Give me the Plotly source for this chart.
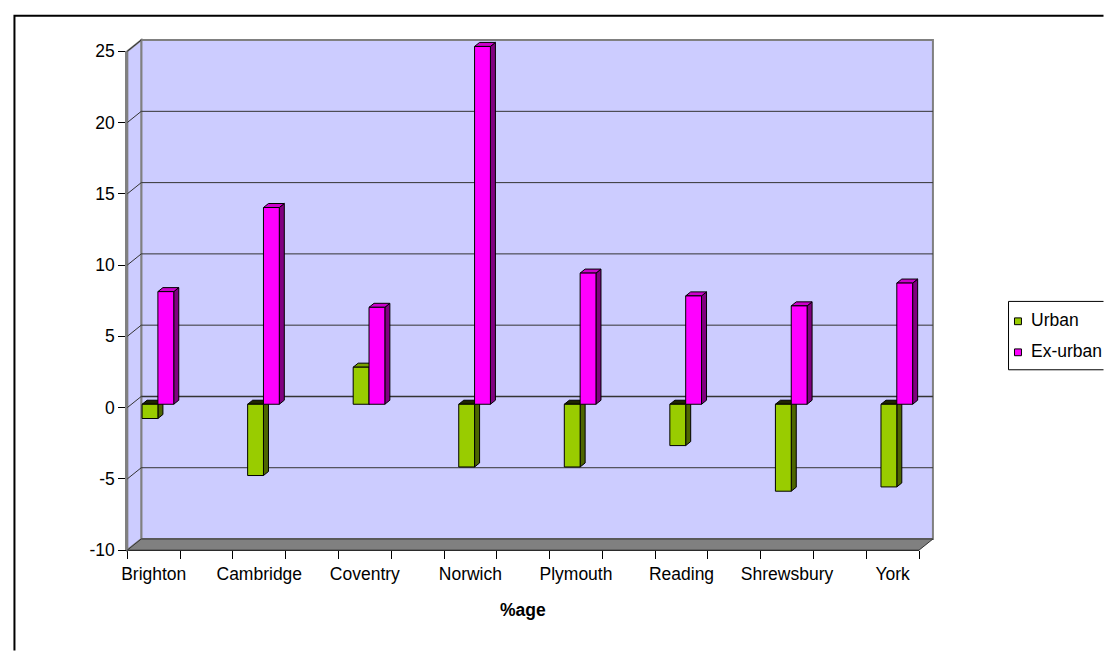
import plotly.graph_objects as go

# ---------------- data ----------------
categories = ["Brighton", "Cambridge", "Coventry", "Norwich",
              "Plymouth", "Reading", "Shrewsbury", "York"]
urban = [-1.0, -5.0, 2.6, -4.4, -4.4, -2.9, -6.1, -5.8]
ex_urban = [7.9, 13.8, 6.8, 25.1, 9.2, 7.6, 6.9, 8.5]
series_names = ["Urban", "Ex-urban"]
y_ticks = [-10, -5, 0, 5, 10, 15, 20, 25]
y_tick_text = ["-10", "-5", "0", "5", "10", "15", "20", "25"]
x_title = "%age"

# ---------------- geometry / style ----------------
W, H = 1104, 661
FX0, FX1 = 122, 918          # front plane, px
FY_BOT, FY_TOP = 557, 42.5
YMIN, YMAX = -10, 25
N_SLOTS = 15                 # category axis slots (ticks 0..15)
DEPTH_PX = (14, 11.5)        # back wall offset (right, up)
BAR_PLANE = 0.3              # bars sit this far into the depth
BAR_DEPTH = 0.36             # bar thickness as fraction of depth
BAR_W = 0.3                  # slot units

FONT = "Arial, 'Liberation Sans', sans-serif"
FS = 17.5
WALL = "#CCCCFF"
GRAY = "#808080"
GRID = "#333333"
COL = {
    "Urban": dict(front="#99CC00", side="#4D6600", top="#7AA300", cap="#1F2600"),
    "Ex-urban": dict(front="#FF00FF", side="#800080", top="#CC00CC", cap="#330033"),
}

pxx = (FX1 - FX0) / N_SLOTS
pxy = (FY_BOT - FY_TOP) / (YMAX - YMIN)
cx_range = [-FX0 / pxx, (W - FX0) / pxx]
cy_range = [YMIN - (H - FY_BOT) / pxy, YMAX + FY_TOP / pxy]
ddx, ddy = DEPTH_PX[0] / pxx, DEPTH_PX[1] / pxy

cat_x = [2 * i + 0.5 for i in range(len(categories))]
slot_ticks = list(range(N_SLOTS + 1))


def px(x):
    return x / W


def py(y):
    return 1 - y / H


fig = go.Figure()

# ---------------- 3D bars (canvas axes x5/y5) ----------------
ox, oy = BAR_PLANE * ddx, BAR_PLANE * ddy
bx, by = BAR_DEPTH * ddx, BAR_DEPTH * ddy


def poly_trace(xs, ys, color):
    return go.Scatter(x=xs, y=ys, xaxis="x5", yaxis="y5", mode="lines",
                      fill="toself", fillcolor=color,
                      line=dict(color="black", width=1),
                      hoverinfo="skip", showlegend=False)


for name, vals, side in [("Urban", urban, -1), ("Ex-urban", ex_urban, 1)]:
    fr_x, fr_y, sd_x, sd_y = [], [], [], []
    tp_x, tp_y, cp_x, cp_y = [], [], [], []
    for c, v in zip(cat_x, vals):
        x0 = c + ox + (-BAR_W if side < 0 else 0)
        x1 = x0 + BAR_W
        y0 = oy + min(0, v)
        y1 = oy + max(0, v)
        fr_x += [x0, x1, x1, x0, x0, None]
        fr_y += [y0, y0, y1, y1, y0, None]
        sd_x += [x1, x1 + bx, x1 + bx, x1, x1, None]
        sd_y += [y0, y0 + by, y1 + by, y1, y0, None]
        tx = [x0, x1, x1 + bx, x0 + bx, x0, None]
        ty = [y1, y1, y1 + by, y1 + by, y1, None]
        if v >= 0:
            tp_x += tx
            tp_y += ty
        else:
            cp_x += tx
            cp_y += ty
    c = COL[name]
    fig.add_trace(poly_trace(sd_x, sd_y, c["side"]))
    if tp_x:
        fig.add_trace(poly_trace(tp_x, tp_y, c["top"]))
    if cp_x:
        fig.add_trace(poly_trace(cp_x, cp_y, c["cap"]))
    fig.add_trace(poly_trace(fr_x, fr_y, c["front"]))

# dummy traces so the front axes get drawn
for xa in ["x", "x2", "x3"]:
    fig.add_trace(go.Scatter(x=[0], y=[0], xaxis=xa, yaxis="y", mode="markers",
                             marker=dict(opacity=0), hoverinfo="skip",
                             showlegend=False))

# ---------------- walls, floor, gridlines (shapes below) ----------------
shapes = []
ref = dict(xref="x5", yref="y5", layer="below")
EDGE_R = 1 - 0.5 / W
EDGE_B = 0.5 / H
# outer border (only left and top edges fall inside the picture)
shapes.append(dict(type="path", xref="paper", yref="paper", layer="below",
                   path=f"M {px(8.5)},{EDGE_B} L {px(8.5)},{py(6)} L {EDGE_R},{py(6)}",
                   line=dict(color="black", width=2)))
# back wall
shapes.append(dict(type="rect", x0=0 + ddx, x1=N_SLOTS + ddx,
                   y0=YMIN + ddy, y1=YMAX + ddy, fillcolor=WALL,
                   line=dict(color=GRAY, width=2), **ref))
# side wall
shapes.append(dict(type="path",
                   path=f"M 0,{YMIN} L {ddx},{YMIN + ddy} L {ddx},{YMAX + ddy} L 0,{YMAX} Z",
                   fillcolor=WALL, line=dict(color=GRAY, width=2), **ref))
# floor
shapes.append(dict(type="path",
                   path=(f"M 0,{YMIN} L {N_SLOTS},{YMIN} L {N_SLOTS + ddx},{YMIN + ddy} "
                         f"L {ddx},{YMIN + ddy} Z"),
                   fillcolor=GRAY, line=dict(color="#333333", width=1), **ref))
# gridlines on back wall + diagonals on side wall
for t in y_ticks:
    if YMIN < t < YMAX:
        shapes.append(dict(type="line", x0=ddx, x1=N_SLOTS + ddx,
                           y0=t + ddy, y1=t + ddy,
                           line=dict(color=GRID, width=1.5 if t == 0 else 1), **ref))
    if t > YMIN:
        shapes.append(dict(type="line", x0=0, x1=ddx, y0=t, y1=t + ddy,
                           line=dict(color=GRID, width=1), **ref))

# ---------------- manual legend (box runs off the right edge) ----------------
LX0, LY0, LY1 = 1008, 300.5, 371
shapes.append(dict(type="path", xref="paper", yref="paper", layer="above",
                   path=(f"M {EDGE_R},{py(LY0)} L {px(LX0)},{py(LY0)} L {px(LX0)},{py(LY1)} "
                         f"L {EDGE_R},{py(LY1)}"),
                   fillcolor="white", line=dict(color="black", width=1)))
annotations = []
for name, ycen in zip(series_names, [321, 353]):
    shapes.append(dict(type="rect", xref="paper", yref="paper", layer="above",
                       x0=px(1014), x1=px(1021), y0=py(ycen + 3.5), y1=py(ycen - 3.5),
                       fillcolor=COL[name]["front"],
                       line=dict(color="black", width=1)))
    annotations.append(dict(xref="paper", yref="paper", x=px(1030), y=py(ycen - 1),
                            xanchor="left", yanchor="middle", showarrow=False,
                            borderpad=0,
                            text=name, font=dict(family=FONT, size=FS, color="black")))

# axis title
annotations.append(dict(xref="paper", yref="paper", x=px((FX0 + FX1) / 2), y=py(619),
                        xanchor="center", yanchor="middle", showarrow=False,
                        text=f"<b>{x_title}</b>",
                        font=dict(family=FONT, size=FS, color="black")))

zero_px = FY_BOT - (0 - YMIN) * pxy

fig.update_layout(
    width=W, height=H,
    margin=dict(l=0, r=0, t=0, b=0),
    paper_bgcolor="white",
    plot_bgcolor="rgba(0,0,0,0)",
    showlegend=False,
    font=dict(family=FONT, size=FS, color="black"),
    shapes=shapes,
    annotations=annotations,
    # front plane axes
    xaxis=dict(domain=[px(FX0), px(FX1)], range=[0, N_SLOTS], anchor="y",
               showline=True, linecolor="black", linewidth=1,
               ticks="outside", ticklen=8, tickcolor="black", tickwidth=1,
               tickvals=slot_ticks, showticklabels=False,
               showgrid=False, zeroline=False, fixedrange=True),
    yaxis=dict(domain=[py(FY_BOT), py(FY_TOP)], range=[YMIN, YMAX], anchor="x",
               showline=True, linecolor=GRAY, linewidth=2,
               ticks="outside", ticklen=7, tickcolor="black", tickwidth=1,
               tickvals=y_ticks, ticktext=y_tick_text,
               tickfont=dict(family=FONT, size=FS),
               showgrid=False, zeroline=False, fixedrange=True),
    xaxis2=dict(overlaying="x", anchor="y", range=[0, N_SLOTS],
                tickvals=cat_x, ticktext=categories,
                ticks="outside", ticklen=8, tickcolor="rgba(0,0,0,0)",
                tickfont=dict(family=FONT, size=FS),
                showline=False, showgrid=False, zeroline=False, fixedrange=True),
    xaxis3=dict(overlaying="x", anchor="free", position=py(zero_px),
                range=[0, N_SLOTS], tickvals=slot_ticks, showticklabels=False,
                ticks="outside", ticklen=8, tickcolor="black", tickwidth=1,
                showline=True, linecolor="black", linewidth=1,
                showgrid=False, zeroline=False, fixedrange=True),
    # canvas axes for the 3D drawing
    xaxis5=dict(domain=[0, 1], range=cx_range, visible=False, anchor="y5",
                fixedrange=True),
    yaxis5=dict(domain=[0, 1], range=cy_range, visible=False, anchor="x5",
                fixedrange=True),
)

fig.write_html(
    "out.html",
    config={"displayModeBar": False, "staticPlot": True},
    post_script=(
        "var de=document.documentElement, b=document.body;"
        "b.style.margin='0'; b.style.overflow='hidden'; de.style.overflow='hidden';"
        "de.style.width=b.style.width='1104px'; de.style.height=b.style.height='661px';"
        "document.querySelectorAll('.plotly-graph-div').forEach(function(d){"
        "d.style.overflow='hidden'; d.style.width='1104px'; d.style.height='661px';});"
        "document.querySelectorAll('svg').forEach(function(s){s.style.overflow='hidden';});"
    ),
)
